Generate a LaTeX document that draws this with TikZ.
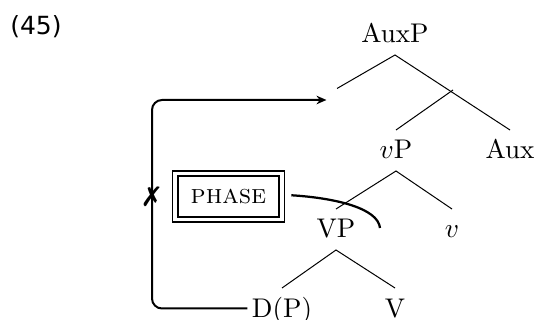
\documentclass[tikz,border=0pt]{standalone}
\usepackage{fontspec}
\newfontfamily\numfont{DejaVu Sans}
\newfontfamily\symfont{DejaVu Sans}
\usetikzlibrary{arrows.meta,positioning,calc}

\begin{document}
\begin{tikzpicture}[
  x=0.4pt, y=0.4pt,
  font=\fontsize{10.8}{13}\selectfont,
  lbl/.style={inner xsep=1.6pt, inner ysep=4pt, text height=7.4pt, text depth=0.6pt},
  hole/.style={inner sep=0pt, minimum width=8pt, minimum height=8.8pt},
  branch/.style={line width=0.4pt},
  phasebox/.style={draw, double, line width=0.65pt, double distance=1.5pt, minimum width=42.6pt, minimum height=18.4pt, inner sep=0pt},
  arrow/.style={-{Stealth[length=4pt, width=3.4pt]}, line width=0.8pt, rounded corners=4pt},
  scope/.style={line width=0.9pt}
]
\useasboundingbox (0,0) rectangle (540,320);

\node (ex) at (36, 293) {\numfont\fontsize{10}{12}\selectfont (45)};

% tree
\node[lbl]  (auxp) at (395, 285.5) {AuxP};
\node[hole] (spec) at (337, 220) {};
\coordinate (auxbar) at (453, 230);
\node[lbl]  (vp)   at (396, 169.5) {$v$P};
\node[lbl]  (aux)  at (510, 169.5) {Aux};
\node[lbl]  (VP)   at (336, 90.5) {VP};
\node[lbl]  (v)    at (452, 90.5) {$v$};
\node[lbl]  (dp)   at (282, 11.5) {D(P)};
\node[lbl]  (V)    at (395, 11.5) {V};

\draw[branch] (spec.north) -- (auxp.south) -- (aux.north);
\draw[branch] (auxbar) -- (vp.north);
\draw[branch] (VP.north) -- (vp.south) -- (v.north);
\draw[branch] (dp.north) -- (VP.south) -- (V.north);

% phase boundary
\node[phasebox] (phase) at (228.5, 123.5) {\textsc{phase}};
\coordinate (bend) at (380, 92);
\draw[scope] ([xshift=3.5pt, yshift=0.5pt]phase.east) .. controls (335, 122) and (378, 112) .. (bend);

% blocked movement
\coordinate (turn) at (152, 123);
\draw[arrow] (dp.west) -| (turn) |- (spec.west);
\node[inner sep=0pt] (block) at (turn) {\symfont ✗};
\end{tikzpicture}
\end{document}
